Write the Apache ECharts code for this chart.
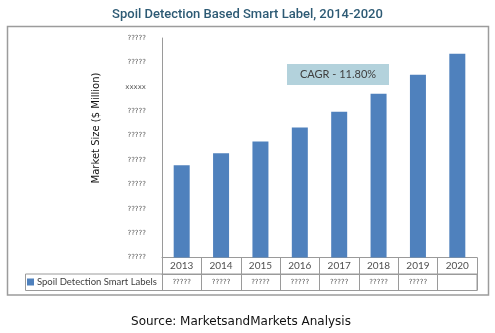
<!DOCTYPE html>
<html>
<head>
<meta charset="utf-8">
<script src="https://cdn.jsdelivr.net/npm/echarts@6/dist/echarts.min.js"></script>
<style>
  html, body { margin: 0; padding: 0; background: #fff; }
  #chart { width: 495px; height: 333px; }
</style>
</head>
<body>
<div id="chart"></div>
<script>
// Market size by year (masked units; axis counts in steps of 1)
const years = ['2013', '2014', '2015', '2016', '2017', '2018', '2019', '2020'];
const marketSize = [3.78, 4.27, 4.76, 5.33, 5.98, 6.71, 7.49, 8.35];
const tableValues = ['?????', '?????', '?????', '?????', '?????', '?????', '?????', ''];
const yTickLabels = ['?????', '?????', '?????', '?????', '?????', '?????', '?????', 'xxxxx', '?????', '?????'];
const seriesName = 'Spoil Detection Smart Labels';
const cagrText = 'CAGR - 11.80%';

const chart = echarts.init(document.getElementById('chart'), null, { renderer: 'canvas' });

const lineGray = '#9a9a9a';

chart.setOption({
  animation: false,
  backgroundColor: '#ffffff',
  title: {
    text: 'Spoil Detection Based Smart Label, 2014-2020',
    left: 'center',
    top: 3,
    textStyle: { fontFamily: 'Roboto', fontSize: 13, fontWeight: 500, color: '#2d5a74' }
  },
  legend: {
    data: [seriesName],
    left: 27,
    top: 277,
    padding: 0,
    itemWidth: 7,
    itemHeight: 7,
    icon: 'rect',
    textStyle: { fontFamily: 'Lato', fontSize: 9.5, color: '#404040', padding: [0, 0, 0, -2] }
  },
  grid: { left: 162, right: 18, top: 38, bottom: 75.5, containLabel: false },
  xAxis: [
    {
      type: 'category',
      data: years,
      position: 'bottom',
      boundaryGap: true,
      axisLine: { show: true, lineStyle: { color: lineGray, width: 1 } },
      axisTick: { show: true, length: 33, alignWithLabel: false, lineStyle: { color: lineGray } },
      axisLabel: { margin: 3, fontFamily: 'Lato', fontSize: 10, color: '#505050' }
    },
    {
      type: 'category',
      data: tableValues,
      position: 'bottom',
      offset: 16.5,
      boundaryGap: true,
      axisLine: { show: true, lineStyle: { color: lineGray, width: 1 } },
      axisTick: { show: false },
      axisLabel: { margin: 5, fontFamily: 'DejaVu Sans', fontSize: 7, color: '#555' }
    }
  ],
  yAxis: {
    type: 'value',
    min: 0,
    max: 9,
    interval: 1,
    axisLine: { show: true, lineStyle: { color: lineGray, width: 1 } },
    axisTick: { show: false },
    splitLine: { show: false },
    axisLabel: {
      margin: 16,
      fontFamily: 'DejaVu Sans',
      fontSize: 7,
      color: '#555',
      formatter: (v) => yTickLabels[Math.round(v)] || ''
    }
  },
  series: [
    {
      name: seriesName,
      type: 'bar',
      data: marketSize,
      barWidth: 16,
      itemStyle: { color: '#4f81bd' }
    }
  ],
  graphic: [
    {
      type: 'rect',
      shape: { x: 7.5, y: 26.5, width: 481, height: 268.5 },
      style: { fill: 'none', stroke: '#9c9c9c', lineWidth: 1.5 },
      silent: true
    },
    {
      type: 'rect',
      shape: { x: 25.5, y: 274, width: 451.5, height: 16.5 },
      style: { fill: 'none', stroke: lineGray, lineWidth: 1 },
      silent: true
    },
    {
      type: 'text',
      x: 96,
      y: 128,
      rotation: Math.PI / 2,
      style: {
        text: 'Market Size ($ Million)',
        fill: '#111',
        font: '10px "DejaVu Sans"',
        align: 'center',
        verticalAlign: 'middle'
      },
      silent: true
    },
    {
      type: 'rect',
      shape: { x: 287, y: 64, width: 102, height: 21 },
      style: { fill: '#b3d2dc', stroke: 'none' },
      silent: true
    },
    {
      type: 'text',
      x: 338,
      y: 74.5,
      style: {
        text: cagrText,
        fill: '#404040',
        font: '11px Lato',
        align: 'center',
        verticalAlign: 'middle'
      },
      silent: true
    },
    {
      type: 'text',
      x: 241,
      y: 322,
      style: {
        text: 'Source: MarketsandMarkets Analysis',
        fill: '#111',
        font: '12px "DejaVu Sans"',
        align: 'center',
        verticalAlign: 'middle'
      },
      silent: true
    }
  ]
});
</script>
</body>
</html>
